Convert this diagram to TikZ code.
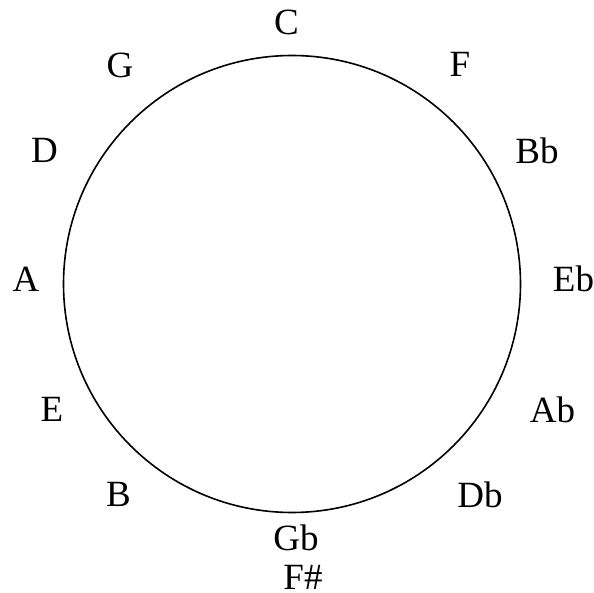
\documentclass[tikz,border=0pt]{standalone}
\usepackage{fontspec}
\setmainfont{Liberation Serif}
\usepackage{tikz}
\usetikzlibrary{positioning}

\tikzset{
  key/.style={inner sep=0pt,font=\fontsize{37}{44}\selectfont},
  wheel/.style={circle,draw,line width=1.6pt,minimum size=457pt,inner sep=0pt}
}

\begin{document}
\begin{tikzpicture}[x=1pt,y=-1pt]
  \useasboundingbox (0,0) rectangle (594,593);
  \node[wheel] (ring) at (292,284) {};
  % keys round the ring
  \foreach \nm/\txt/\px/\py in {c/C/286.5/22, g/G/120/65, f/F/460/64.5, d/D/44.5/150.5, bb/Bb/537/150.5,
      a/A/26/279, eb/Eb/573.5/279, e/E/52/409, ab/Ab/552.5/409.5, b/B/118.5/494.5, db/Db/480/494.5,
      gb/Gb/296/537.5, fs/F\#/303/577}
    \node[key] (\nm) at (\px,\py) {\txt};
\end{tikzpicture}
\end{document}
